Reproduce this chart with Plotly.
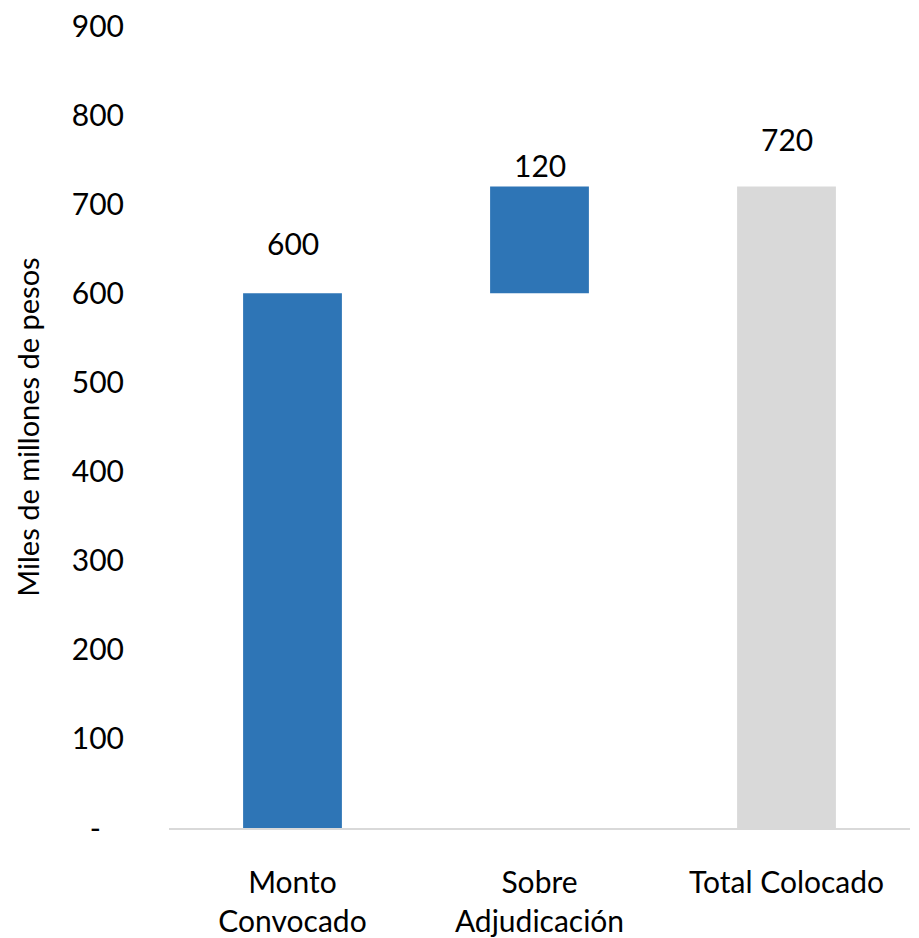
import plotly.graph_objects as go

categories = ["Monto<br>Convocado", "Sobre<br>Adjudicación", "Total Colocado"]
values = [600, 120, 720]
bases = [0, 600, 0]
labels = ["600", "120", "720"]
tick_vals = [0, 100, 200, 300, 400, 500, 600, 700, 800, 900]
tick_text = ["-\u00a0\u00a0\u00a0", "100", "200", "300", "400", "500", "600", "700", "800", "900"]

colors = ["#2E75B6", "#2E75B6", "#D9D9D9"]
label_shift = [50, 21, 47]
FONT = "Lato"

fig = go.Figure()
fig.add_trace(go.Bar(x=categories, y=values, base=bases, marker=dict(color=colors, line=dict(width=0)),
                     width=0.4, hoverinfo="skip"))

for c, v, b, t, s in zip(categories, values, bases, labels, label_shift):
    fig.add_annotation(x=c, y=v + b, text=t, showarrow=False, yanchor="middle", yshift=s,
                       font=dict(family=FONT, size=30, color="#000000"))

fig.update_layout(
    width=911, height=930,
    margin=dict(l=161, r=9, t=18, b=110),
    plot_bgcolor="white", paper_bgcolor="white",
    showlegend=False,
    font=dict(family=FONT, color="#000000"),
    xaxis=dict(showline=True, linecolor="#D9D9D9", linewidth=2, showgrid=False, automargin=False,
               tickfont=dict(family=FONT, size=30), ticks="", ticklabelstandoff=27),
    yaxis=dict(range=[0, 900], tickvals=tick_vals, ticktext=tick_text, showgrid=False, automargin=False,
               zeroline=False, showline=False, ticks="", ticklabelstandoff=44,
               ticklabeloverflow="allow",
               tickfont=dict(family=FONT, size=30),
               title=dict(text="Miles de millones de pesos", font=dict(family=FONT, size=29), standoff=23)),
)

fig.write_html("out.html")
